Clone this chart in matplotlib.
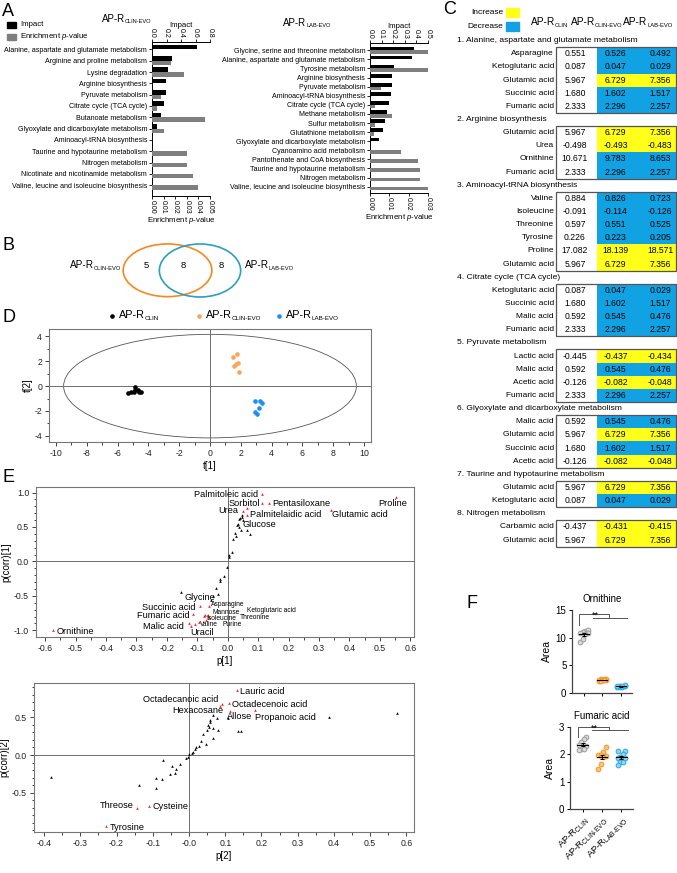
import numpy as np
import matplotlib
matplotlib.use('Agg')
import matplotlib.pyplot as plt
from matplotlib.patches import Ellipse, Rectangle
from matplotlib.ticker import MultipleLocator, FormatStrFormatter

plt.rcParams['font.family'] = ['Liberation Sans', 'DejaVu Sans']
plt.rcParams['mathtext.fontset'] = 'custom'
plt.rcParams['mathtext.rm'] = 'Liberation Sans'
plt.rcParams['mathtext.it'] = 'Liberation Sans:italic'
plt.rcParams['mathtext.bf'] = 'Liberation Sans:bold'
plt.rcParams['axes.unicode_minus'] = False

# ======================= DATA =======================
# Panel A (left: AP-R CLIN-EVO, right: AP-R LAB-EVO)
pathways_clin_evo = ['Alanine, aspartate and glutamate metabolism', 'Arginine and proline metabolism',
                     'Lysine degradation', 'Arginine biosynthesis', 'Pyruvate metabolism',
                     'Citrate cycle (TCA cycle)', 'Butanoate metabolism',
                     'Glyoxylate and dicarboxylate metabolism', 'Aminoacyl-tRNA biosynthesis',
                     'Taurine and hypotaurine metabolism', 'Nitrogen metabolism',
                     'Nicotinate and nicotinamide metabolism', 'Valine, leucine and isoleucine biosynthesis']
impact_clin_evo = [0.62, 0.28, 0.22, 0.19, 0.19, 0.17, 0.13, 0.07, 0.0, 0.0, 0.0, 0.0, 0.0]
pval_clin_evo = [0.0, 0.016, 0.028, 0.0, 0.008, 0.004, 0.046, 0.010, 0.0, 0.030, 0.030, 0.035, 0.040]

pathways_lab_evo = ['Glycine, serine and threonine metabolism', 'Alanine, aspartate and glutamate metabolism',
                    'Tyrosine metabolism', 'Arginine biosynthesis', 'Pyruvate metabolism',
                    'Aminoacyl-tRNA biosynthesis', 'Citrate cycle (TCA cycle)', 'Methane metabolism',
                    'Sulfur metabolism', 'Glutathione metabolism', 'Glyoxylate and dicarboxylate metabolism',
                    'Cyanoamino acid metabolism', 'Pantothenate and CoA biosynthesis',
                    'Taurine and hypotaurine metabolism', 'Nitrogen metabolism',
                    'Valine, leucine and isoleucine biosynthesis']
impact_lab_evo = [0.38, 0.36, 0.21, 0.19, 0.19, 0.18, 0.16, 0.145, 0.13, 0.11, 0.075, 0, 0, 0, 0, 0]
pval_lab_evo = [0.030, 0.0, 0.030, 0.0, 0.0055, 0.0, 0.0026, 0.0114, 0.0027, 0.0019, 0.0,
                0.0159, 0.0249, 0.0257, 0.0257, 0.030]

# Panel B
venn_counts = [5, 8, 8]

# Panel C
section_names = ['Alanine, aspartate and glutamate metabolism', 'Arginine biosynthesis',
                 'Aminoacyl-tRNA biosynthesis', 'Citrate cycle (TCA cycle)', 'Pyruvate metabolism',
                 'Glyoxylate and dicarboxylate metabolism', 'Taurine and hypotaurine metabolism',
                 'Nitrogen metabolism']
row_section = [0, 0, 0, 0, 0, 1, 1, 1, 1, 2, 2, 2, 2, 2, 2, 3, 3, 3, 3, 4, 4, 4, 4, 5, 5, 5, 5, 6, 6, 7, 7]
row_metab = ['Asparagine', 'Ketoglutaric acid', 'Glutamic acid', 'Succinic acid', 'Fumaric acid',
             'Glutamic acid', 'Urea', 'Ornithine', 'Fumaric acid',
             'Valine', 'Isoleucine', 'Threonine', 'Tyrosine', 'Proline', 'Glutamic acid',
             'Ketoglutaric acid', 'Succinic acid', 'Malic acid', 'Fumaric acid',
             'Lactic acid', 'Malic acid', 'Acetic acid', 'Fumaric acid',
             'Malic acid', 'Glutamic acid', 'Succinic acid', 'Acetic acid',
             'Glutamic acid', 'Ketoglutaric acid',
             'Carbamic acid', 'Glutamic acid']
val_clin = [0.551, 0.087, 5.967, 1.680, 2.333, 5.967, -0.498, 10.671, 2.333,
            0.884, -0.091, 0.597, 0.226, 17.082, 5.967, 0.087, 1.680, 0.592, 2.333,
            -0.445, 0.592, -0.126, 2.333, 0.592, 5.967, 1.680, -0.126, 5.967, 0.087, -0.437, 5.967]
val_clin_evo = [0.526, 0.047, 6.729, 1.602, 2.296, 6.729, -0.493, 9.783, 2.296,
                0.826, -0.114, 0.551, 0.223, 18.139, 6.729, 0.047, 1.602, 0.545, 2.296,
                -0.437, 0.545, -0.082, 2.296, 0.545, 6.729, 1.602, -0.082, 6.729, 0.047, -0.431, 6.729]
val_lab_evo = [0.492, 0.029, 7.356, 1.517, 2.257, 7.356, -0.483, 8.653, 2.257,
               0.723, -0.126, 0.525, 0.205, 18.571, 7.356, 0.029, 1.517, 0.476, 2.257,
               -0.434, 0.476, -0.048, 2.257, 0.476, 7.356, 1.517, -0.048, 7.356, 0.029, -0.415, 7.356]

# Panel D (PCA scores)
t1_clin = [-5.3, -5.1, -4.95, -4.9, -4.85, -4.7, -4.6, -4.45]
t2_clin = [-0.55, -0.5, -0.45, -0.05, -0.3, -0.35, -0.45, -0.5]
t1_clin_evo = [1.5, 1.75, 1.55, 1.8, 1.7, 1.9]
t2_clin_evo = [2.35, 2.55, 1.65, 1.85, 1.75, 1.1]
t1_lab_evo = [2.9, 3.23, 3.4, 3.18, 2.9, 3.05]
t2_lab_evo = [-1.21, -1.23, -1.34, -1.77, -2.1, -2.23]
hotelling_t1, hotelling_t2 = 9.5, 4.17

# Panel E (S-plots)
p1_black = [0.040, 0.046, 0.048, 0.036, 0.031, 0.036, 0.045, 0.062, 0.073, 0.024, 0.027, 0.018,
            0.015, 0.005, 0.003, -0.003, -0.012, -0.025, -0.025, -0.038, -0.031, -0.153, -0.047,
            -0.056, 0.051, 0.033]
c1_black = [0.629, 0.652, 0.677, 0.614, 0.522, 0.503, 0.45, 0.459, 0.397, 0.411, 0.362, 0.324,
            0.136, 0.087, 0.064, -0.077, -0.217, -0.25, -0.28, -0.386, -0.468, -0.449, -0.507,
            -0.565, 0.60, 0.55]
p1_red = [0.111, 0.113, 0.136, 0.554, 0.049, 0.063, 0.063, 0.338, -0.091, -0.061, -0.115, -0.074,
          -0.064, -0.077, -0.060, -0.071, -0.128, -0.094, -0.109, -0.12, -0.575]
c1_red = [0.977, 0.846, 0.846, 0.928, 0.725, 0.774, 0.667, 0.749, -0.642, -0.652, -0.763, -0.773,
          -0.773, -0.797, -0.80, -0.855, -0.893, -0.884, -0.907, -0.932, -1.0]
labels1 = ['Palmitoleic acid', 'Sorbitol', 'Pentasiloxane', 'Proline', 'Urea', 'Palmitelaidic acid',
           'Glutamic acid', 'Glucose', 'Glycine', 'Succinic acid', 'Asparagine', 'Fumaric acid',
           'Mannose', 'Ketoglutaric acid', 'Isoleucine', 'Threonine', 'Malic acid', 'Valine',
           'Purine', 'Uracil', 'Ornithine']

p2_black = [0.573, 0.387, 0.134, 0.144, 0.108, 0.076, 0.066, 0.057, 0.052, 0.055, 0.05, 0.059,
            0.039, 0.066, 0.08, 0.065, 0.048, 0.034, 0.028, 0.02, 0.016, 0.011, 0.007, 0.0,
            -0.004, -0.009, -0.026, -0.047, -0.035, -0.071, -0.053, -0.038, -0.092, -0.075,
            -0.139, -0.092, -0.38]
c2_black = [0.564, 0.499, 0.322, 0.322, 0.485, 0.498, 0.529, 0.463, 0.397, 0.375, 0.331, 0.441,
            0.278, 0.353, 0.335, 0.221, 0.145, 0.189, 0.119, 0.11, 0.079, 0.044, 0.031, 0.009,
            -0.022, -0.04, -0.123, -0.146, -0.185, -0.07, -0.251, -0.242, -0.3, -0.322,
            -0.401, -0.441, -0.295]
p2_red = [0.133, 0.085, 0.109, 0.091, 0.114, 0.181, -0.144, -0.111, -0.228]
c2_red = [0.869, 0.648, 0.692, 0.675, 0.582, 0.595, -0.71, -0.675, -0.939]
labels2 = ['Lauric acid', 'Octadecanoic acid', 'Octadecenoic acid', 'Hexacosane', 'Allose',
           'Propanoic acid', 'Threose', 'Cysteine', 'Tyrosine']

# Panel F
groups_f = ['CLIN', 'CLIN-EVO', 'LAB-EVO']
ornithine_clin = [11.2, 11.0, 11.3, 10.8, 10.9, 9.3, 9.7, 10.6]
ornithine_clin_evo = [2.5, 2.3, 2.1, 2.6, 2.4, 2.2, 2.5, 2.3]
ornithine_lab_evo = [1.0, 1.2, 1.4, 1.1, 1.3, 1.2, 1.1, 1.3]
fumaric_clin = [2.65, 2.55, 2.45, 2.35, 2.3, 2.2, 2.15, 2.2]
fumaric_clin_evo = [2.26, 2.09, 1.97, 1.93, 1.97, 1.64, 1.46, 1.92]
fumaric_lab_evo = [2.12, 2.13, 2.0, 1.87, 1.9, 1.88, 1.73, 1.73, 1.6]

# ======================= LAYOUT =======================
W, H = 677, 873
fig = plt.figure(figsize=(W / 100, H / 100), dpi=100)
renderer = fig.canvas.get_renderer()


def px_axes(l, t, r, b):
    return fig.add_axes([l / W, 1 - b / H, (r - l) / W, (b - t) / H])


def sub(base, s):
    return base + r'$_{\mathregular{' + s.replace('-', r'\text{-}') + '}}$'


GRAY_SP = '#6e6e6e'

# ---------------- Panel A ----------------
def pathway_panel(box, names, imp, pv, imp_max, imp_step, p_max, p_step, pfmt, top_pad, bot_pad):
    ax = px_axes(*box)
    n = len(names)
    y = np.arange(n)
    ax.barh(y - 0.2, imp, height=0.4, color='black')
    ax.set_xlim(0, imp_max)
    ax.set_ylim(n - 1 + bot_pad, -top_pad)
    ax.set_yticks(y)
    ax.set_yticklabels(names, fontsize=5.1)
    ax.tick_params(axis='y', length=2, width=0.6, pad=1.5)
    ax2 = ax.twiny()
    ax2.barh(y + 0.2, pv, height=0.4, color='#7f7f7f')
    ax2.set_xlim(0, p_max)
    ax.xaxis.set_ticks_position('top')
    ax.xaxis.set_label_position('top')
    ax2.xaxis.set_ticks_position('bottom')
    ax2.xaxis.set_label_position('bottom')
    ax.set_xticks(np.arange(0, imp_max + 1e-9, imp_step))
    ax.xaxis.set_major_formatter(FormatStrFormatter('%.1f'))
    ax2.set_xticks(np.arange(0, p_max + 1e-9, p_step))
    ax2.xaxis.set_major_formatter(FormatStrFormatter(pfmt))
    for a in (ax, ax2):
        a.tick_params(axis='x', labelsize=5, length=2, width=0.6, pad=1, labelrotation=-90)
        a.spines['right'].set_visible(False)
        for s in a.spines.values():
            s.set_linewidth(0.7)
    ax.spines['bottom'].set_visible(False)
    ax2.spines['top'].set_visible(False)
    ax2.spines['left'].set_visible(False)
    ax.set_xlabel('Impact', fontsize=5.6, labelpad=1)
    ax2.set_xlabel(r'Enrichment $\mathit{p}$-value', fontsize=5.6, labelpad=1)
    return ax


pathway_panel((152, 42, 210, 196), pathways_clin_evo, impact_clin_evo, pval_clin_evo,
              0.8, 0.2, 0.05, 0.01, '%.2f', 0.65, 0.95)
pathway_panel((370, 43, 428, 193), pathways_lab_evo, impact_lab_evo, pval_lab_evo,
              0.5, 0.1, 0.03, 0.01, '%.2f', 0.8, 0.7)

# ---------------- Panel D ----------------
axD = px_axes(49, 329, 371, 442)
axD.scatter(t1_clin, t2_clin, s=11, color='black', zorder=3, linewidths=0)
axD.scatter(t1_clin_evo, t2_clin_evo, s=11, color='#f7a65b', zorder=3, linewidths=0)
axD.scatter(t1_lab_evo, t2_lab_evo, s=11, color='#1f8ef5', zorder=3, linewidths=0)
axD.add_patch(Ellipse((0, 0), 2 * hotelling_t1, 2 * hotelling_t2, fill=False, ec='#555555', lw=0.6))
axD.axhline(0, color=GRAY_SP, lw=0.7)
axD.axvline(0, color=GRAY_SP, lw=0.7)
axD.set_xlim(-10.45, 10.45)
axD.set_ylim(-4.5, 4.6)
axD.xaxis.set_major_locator(MultipleLocator(2))
axD.xaxis.set_minor_locator(MultipleLocator(1))
axD.yaxis.set_major_locator(MultipleLocator(2))
axD.yaxis.set_minor_locator(MultipleLocator(1))
axD.tick_params(which='both', labelsize=6.3, width=0.6, pad=2, colors='#222222')
axD.tick_params(which='major', length=3)
axD.tick_params(which='minor', length=1.8)
for s in axD.spines.values():
    s.set_color('#777777'); s.set_linewidth(0.8)
axD.set_xlabel('t[1]', fontsize=7, labelpad=2)
axD.set_ylabel('t[2]', fontsize=7, labelpad=1)

# ---------------- Panel E ----------------
def splot(box, pb, cb, pr, cr, xlim, ylim, xlab, ylab, yticks):
    ax = px_axes(*box)
    ax.plot(pb, cb, '^', color='black', ms=1.9, mew=0, zorder=3)
    ax.plot(pr, cr, '^', color='#ff1a1a', ms=1.9, mew=0, zorder=3)
    ax.axhline(0, color=GRAY_SP, lw=0.7)
    ax.axvline(0, color=GRAY_SP, lw=0.7)
    ax.set_xlim(*xlim)
    ax.set_ylim(*ylim)
    ax.xaxis.set_major_locator(MultipleLocator(0.1))
    ax.xaxis.set_minor_locator(MultipleLocator(0.05))
    ax.xaxis.set_major_formatter(FormatStrFormatter('%.1f'))
    ax.set_yticks(yticks)
    ax.yaxis.set_major_formatter(FormatStrFormatter('%.1f'))
    ax.yaxis.set_minor_locator(MultipleLocator(0.1))
    ax.tick_params(which='both', labelsize=6.3, width=0.6, pad=2, colors='#222222')
    ax.tick_params(which='major', length=3)
    ax.tick_params(which='minor', length=1.8)
    for s in ax.spines.values():
        s.set_color('#777777'); s.set_linewidth(0.8)
    ax.set_xlabel(xlab, fontsize=7, labelpad=2)
    ax.set_ylabel(ylab, fontsize=7, labelpad=2)
    return ax


axE1 = splot((36, 487, 414, 637), p1_black, c1_black, p1_red, c1_red, (-0.63, 0.612), (-1.096, 1.08),
             'p[1]', 'p(corr)[1]', [-1.0, -0.5, 0.0, 0.5, 1.0])
lab1_pos = [(0.099, 0.977, 'right', 6.6), (0.106, 0.846, 'right', 6.6), (0.145, 0.846, 'left', 6.6),
            (0.588, 0.846, 'right', 6.6), (0.034, 0.735, 'right', 6.6), (0.073, 0.681, 'left', 6.6),
            (0.341, 0.687, 'left', 6.6), (0.047, 0.542, 'left', 6.6), (-0.143, -0.53, 'left', 6.6),
            (-0.107, -0.661, 'right', 6.6), (-0.056, -0.625, 'left', 4.8), (-0.126, -0.787, 'right', 6.6),
            (-0.05, -0.735, 'left', 4.8), (0.062, -0.71, 'left', 4.8), (-0.069, -0.83, 'left', 4.8),
            (0.04, -0.82, 'left', 4.8), (-0.143, -0.942, 'right', 6.6), (-0.091, -0.915, 'left', 4.8),
            (-0.016, -0.915, 'left', 4.8), (-0.124, -1.035, 'left', 6.6), (-0.561, -1.014, 'left', 6.6)]
for name, (x, y, ha, fs) in zip(labels1, lab1_pos):
    axE1.text(x, y, name, ha=ha, va='center', fontsize=fs, zorder=4)

axE2 = splot((34, 683, 414, 832), p2_black, c2_black, p2_red, c2_red, (-0.428, 0.621), (-1.022, 0.956),
             'p[2]', 'p(corr)[2]', [-0.5, 0.0, 0.5])
axE2.xaxis.set_major_formatter(plt.FuncFormatter(lambda v, _: '-0.0' if abs(v) < 1e-9 else '%.1f' % v))
lab2_pos = [(0.142, 0.847, 'left'), (0.082, 0.737, 'right'), (0.119, 0.675, 'left'),
            (0.096, 0.595, 'right'), (0.105, 0.507, 'left'), (0.181, 0.493, 'left'),
            (-0.153, -0.665, 'right'), (-0.102, -0.684, 'left'), (-0.218, -0.956, 'left')]
for name, (x, y, ha) in zip(labels2, lab2_pos):
    axE2.text(x, y, name, ha=ha, va='center', fontsize=6.6, zorder=4)

# ---------------- Panel F ----------------
f_cols = [('#9b9b9b', '#dadada'), ('#f7941d', '#fbc57f'), ('#27a9e1', '#93d5f1')]


def dotpanel(box, data, ymax, ystep, title, bracket_y, show_xlabels):
    ax = px_axes(*box)
    for i, vals in enumerate(data):
        vals = np.asarray(vals)
        n = len(vals)
        order = np.argsort(np.argsort(vals))
        offs = ((order % 4) - 1.5) * 0.13
        ax.plot(i + offs, vals, 'o', ms=3.4, mec=f_cols[i][0], mfc=f_cols[i][1], mew=0.7, zorder=3)
        m = vals.mean(); se = vals.std(ddof=1) / np.sqrt(n)
        ax.plot([i - 0.27, i + 0.27], [m, m], color='black', lw=0.8, zorder=4)
        ax.errorbar(i, m, yerr=se, color='black', lw=0.7, capsize=1.5, capthick=0.7, zorder=4)
    ax.set_xlim(-0.65, 2.6)
    ax.set_ylim(0, ymax)
    ax.set_yticks(np.arange(0, ymax + 1e-9, ystep))
    ax.set_xticks(range(3))
    for s in ['top', 'right']:
        ax.spines[s].set_visible(False)
    for s in ['left', 'bottom']:
        ax.spines[s].set_linewidth(0.9); ax.spines[s].set_color('#444444')
    ax.tick_params(labelsize=7, length=2.5, width=0.7, pad=1.5)
    ax.set_title(title, fontsize=7, pad=6)
    b0, b1 = bracket_y
    b2 = b1 - (b1 - b0) * 0.3
    ax.plot([-0.25, -0.25, 1.35, 1.35], [b0, b1, b1, b2], color='#555555', lw=0.7, clip_on=False)
    ax.plot([0.5, 2.35], [b2, b2], color='#555555', lw=0.7, clip_on=False)
    ax.annotate('**', (0.62, b1), xytext=(0, -2.6), textcoords='offset points', ha='center',
                va='baseline', fontsize=6.5, annotation_clip=False)
    if show_xlabels:
        ax.set_xticklabels([sub('AP-R', g) for g in groups_f], rotation=45, ha='right',
                           rotation_mode='anchor', fontsize=6.8)
    else:
        ax.set_xticklabels([])
    ax.set_ylabel('Area', fontsize=7.5, labelpad=3)
    return ax


dotpanel((572, 610, 632, 693), [ornithine_clin, ornithine_clin_evo, ornithine_lab_evo], 15, 5,
         'Ornithine', (12.3, 14.2), False)
dotpanel((570, 727, 633, 809), [fumaric_clin, fumaric_clin_evo, fumaric_lab_evo], 3, 1,
         'Fumaric acid', (2.64, 3.0), True)

# ---------------- Overlay: text, Venn, table ----------------
ov = fig.add_axes([0, 0, 1, 1])
ov.set_xlim(0, W)
ov.set_ylim(H, 0)
ov.axis('off')


def T(x, y, s, **kw):
    kw.setdefault('fontsize', 6)
    kw.setdefault('va', 'center')
    return ov.text(x, y, s, **kw)


def subT(x, y, base, s, fs, ha='left', scale=0.58):
    """Base text with a small subscript; overlay units are pixels."""
    t1 = T(0, y, base, fontsize=fs, ha='left')
    t2 = T(0, y + fs * 0.42, s, fontsize=fs * scale, ha='left')
    w1 = t1.get_window_extent(renderer).width
    w2 = t2.get_window_extent(renderer).width
    tot = w1 + w2
    x0 = x - tot / 2 if ha == 'center' else (x - tot if ha == 'right' else x)
    t1.set_x(x0)
    t2.set_x(x0 + w1 - 0.3)


for letter, (x, y) in zip('ABCDEF', [(2, 12), (2, 245), (443, 10), (2, 318), (2, 477), (466, 603)]):
    T(x, y, letter, fontsize=13, ha='left')

# Panel A legend + titles
ov.add_patch(Rectangle((7, 21.5), 9, 6.5, color='black'))
ov.add_patch(Rectangle((7, 33.5), 9, 6.5, color='#7f7f7f'))
T(20.5, 25, 'Impact', fontsize=5.6, ha='left')
T(20.5, 37, r'Enrichment $\mathit{p}$-value', fontsize=5.6, ha='left')
subT(127, 19, 'AP-R', 'CLIN-EVO', 7, ha='center')
subT(307, 23, 'AP-R', 'LAB-EVO', 7, ha='center')

# Panel B Venn
ov.add_patch(Ellipse((167.5, 270.3), 88.7, 52.7, fill=False, ec='#f5881f', lw=1.2))
ov.add_patch(Ellipse((200, 270.5), 81.3, 53, fill=False, ec='#2b9fc0', lw=1.2))
for x, c in zip([146, 183.7, 221.7], venn_counts):
    T(x, 265, str(c), fontsize=6.8, ha='center')
subT(121, 265, 'AP-R', 'CLIN-EVO', 7.2, ha='right')
subT(245, 265, 'AP-R', 'LAB-EVO', 7.2, ha='left')

# Panel D legend
for x, col, g in zip([112, 199, 279], ['black', '#f7a65b', '#1f8ef5'], ['CLIN', 'CLIN-EVO', 'LAB-EVO']):
    ov.scatter([x], [316], s=11, color=col, linewidths=0)
    subT(x + 7, 315, 'AP-R', g, 7.8, ha='left')

# Panel C table
YELLOW, BLUE = '#ffff1a', '#11a2e3'
ov.add_patch(Rectangle((505.7, 8), 13.3, 9, color=YELLOW))
ov.add_patch(Rectangle((505.7, 22), 13.3, 8.5, color=BLUE))
T(503, 12.5, 'Increase', fontsize=6, ha='right')
T(503, 26, 'Decrease', fontsize=6, ha='right')
for x, g in zip([550, 597, 648], ['CLIN', 'CLIN-EVO', 'LAB-EVO']):
    subT(x, 22, 'AP-R', g, 7.3, ha='center')

pitch, y0 = 13.14, 40.7
box_l, box_r, col_split = 556, 677, 596.7
xc = [575, 615.5, 660]
k = 0
for s, sname in enumerate(section_names):
    T(457, y0 + k * pitch, f'{s + 1}. {sname}', fontsize=6.1, ha='left')
    k += 1
    ytop = y0 + k * pitch - pitch / 2
    for i in [r for r in range(len(row_section)) if row_section[r] == s]:
        yr = y0 + k * pitch
        T(554, yr, row_metab[i], fontsize=6, ha='right')
        T(xc[0], yr, f'{val_clin[i]:.3f}', fontsize=6.2, ha='center')
        col = YELLOW if val_clin_evo[i] > val_clin[i] else BLUE
        ov.add_patch(Rectangle((col_split, yr - pitch / 2), box_r - col_split, pitch, color=col, lw=0))
        T(xc[1], yr, f'{val_clin_evo[i]:.3f}', fontsize=6.2, ha='center')
        T(xc[2], yr, f'{val_lab_evo[i]:.3f}', fontsize=6.2, ha='center')
        k += 1
    ybot = y0 + k * pitch - pitch / 2
    ov.add_patch(Rectangle((box_l, ytop), box_r - box_l - 0.6, ybot - ytop, fill=False, ec='#555555', lw=0.9))

fig.savefig('out.png', dpi=100)
